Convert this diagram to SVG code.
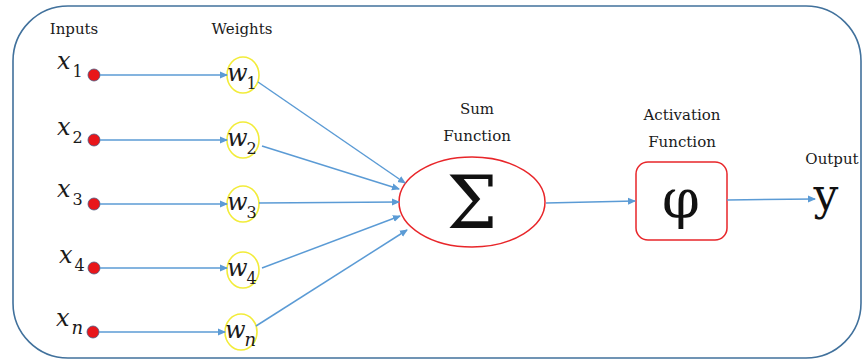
<svg xmlns="http://www.w3.org/2000/svg" width="865" height="360" viewBox="0 0 865 360">
<style>
.lbl{font-family:'DejaVu Serif',serif;font-size:15px;fill:#1a1a1a;text-anchor:middle}
.var{font-family:'DejaVu Serif',serif;font-style:italic;font-size:24px;fill:#1a1a1a}
.s{font-style:normal;font-size:16px}
.sn{font-size:18px}
.dot{fill:#e8161a;stroke:#4a5a80;stroke-width:0.8}
.wc{fill:none;stroke:#f2ec3a;stroke-width:1.6}
.conn line{stroke:#5b9bd5;stroke-width:1.5;marker-end:url(#ah)}
</style>
<defs>
<marker id="ah" markerWidth="8" markerHeight="8" refX="7" refY="4" orient="auto" markerUnits="userSpaceOnUse">
<path d="M0,0.5 L8,4 L0,7.5 Z" fill="#5b9bd5"/>
</marker>
</defs>
<rect x="13" y="6" width="848" height="352" rx="55" ry="55" fill="#fff" stroke="#41719c" stroke-width="1.6"/>
<text class="lbl" x="74" y="34">Inputs</text>
<text class="lbl" x="242" y="34">Weights</text>
<g id="x1"><text class="var" x="57" y="69">x<tspan class="s" dx="2" dy="8">1</tspan></text><circle class="dot" cx="94" cy="75" r="6"/></g>
<g id="x2"><text class="var" x="57" y="135">x<tspan class="s" dx="2" dy="8">2</tspan></text><circle class="dot" cx="94" cy="140" r="6"/></g>
<g id="x3"><text class="var" x="57" y="197">x<tspan class="s" dx="2" dy="8">3</tspan></text><circle class="dot" cx="94" cy="204" r="6"/></g>
<g id="x4"><text class="var" x="59" y="263">x<tspan class="s" dx="2" dy="8">4</tspan></text><circle class="dot" cx="94" cy="268" r="6"/></g>
<g id="xn"><text class="var" x="56" y="326">x<tspan class="sn" dx="2" dy="8">n</tspan></text><circle class="dot" cx="93" cy="332" r="6"/></g>
<g id="w1"><ellipse class="wc" cx="243" cy="75" rx="16" ry="18"/><text class="var" x="227" y="81">w<tspan class="s" dx="-1" dy="8">1</tspan></text></g>
<g id="w2"><ellipse class="wc" cx="243" cy="140" rx="16" ry="18"/><text class="var" x="227" y="146">w<tspan class="s" dx="-1" dy="8">2</tspan></text></g>
<g id="w3"><ellipse class="wc" cx="243" cy="204" rx="16" ry="18"/><text class="var" x="227" y="210">w<tspan class="s" dx="-1" dy="8">3</tspan></text></g>
<g id="w4"><ellipse class="wc" cx="243" cy="270" rx="16" ry="18"/><text class="var" x="227" y="276">w<tspan class="s" dx="-1" dy="8">4</tspan></text></g>
<g id="wn"><ellipse class="wc" cx="241" cy="332" rx="16" ry="18"/><text class="var" x="225" y="338">w<tspan class="sn" dx="-1" dy="8">n</tspan></text></g>
<g id="sum">
<text class="lbl" x="477" y="114">Sum</text>
<text class="lbl" x="477" y="141">Function</text>
<ellipse cx="472" cy="202" rx="73" ry="45" fill="none" stroke="#e8262a" stroke-width="1.5"/>
<text x="472" y="228" style="font-family:'DejaVu Serif',serif;font-size:72px;text-anchor:middle;fill:#111">Σ</text>
</g>
<g id="act">
<text class="lbl" x="682" y="120">Activation</text>
<text class="lbl" x="682" y="147">Function</text>
<rect x="636" y="162" width="91" height="78" rx="12" ry="12" fill="none" stroke="#e8262a" stroke-width="1.5"/>
<text x="681" y="218" style="font-family:'DejaVu Serif',serif;font-size:54px;text-anchor:middle;fill:#111">φ</text>
</g>
<g id="out">
<text class="lbl" x="832" y="164">Output</text>
<text x="826" y="210" style="font-family:'DejaVu Serif',serif;font-size:44px;text-anchor:middle;fill:#111">y</text>
</g>
<g class="conn" id="connectors">
<line x1="100" y1="75" x2="227" y2="75"/>
<line x1="100" y1="140" x2="227" y2="140"/>
<line x1="100" y1="204" x2="227" y2="204"/>
<line x1="100" y1="268" x2="227" y2="268"/>
<line x1="99" y1="332" x2="225" y2="332"/>
<line x1="258" y1="82" x2="405" y2="183"/>
<line x1="262" y1="146" x2="399" y2="189"/>
<line x1="259" y1="203" x2="399" y2="202"/>
<line x1="262" y1="268" x2="400" y2="216"/>
<line x1="256" y1="326" x2="407" y2="230"/>
<line x1="546" y1="203" x2="635" y2="201"/>
<line x1="727" y1="200" x2="815" y2="199"/>
</g>
</svg>
